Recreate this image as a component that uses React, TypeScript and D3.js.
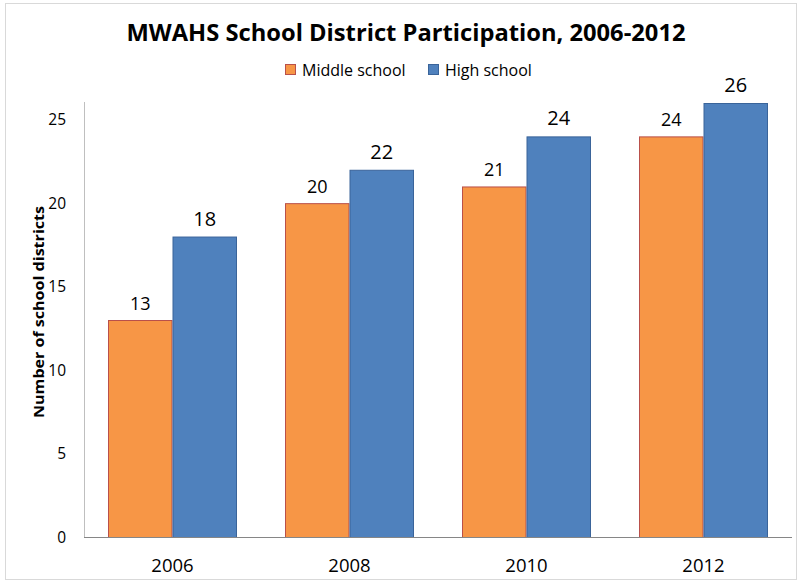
import React from "react";
import * as d3 from "d3";

const categories = ["2006", "2008", "2010", "2012"];
const seriesNames = ["Middle school", "High school"];
const middleSchool = [13, 20, 21, 24];
const highSchool = [18, 22, 24, 26];
const yTicks = [0, 5, 10, 15, 20, 25];
const title = "MWAHS School District Participation, 2006-2012";
const yTitle = "Number of school districts";

const fills = ["#F79646", "#4F81BD"];
const strokes = ["#B9504A", "#3A649A"];
const FONT = "'Open Sans', sans-serif";

export default function App() {
  const W = 800, H = 581;
  const left = 84, right = 792, top = 103, bottom = 537;
  const x = d3.scaleBand<string>().domain(categories).range([left, right]).paddingInner(48 / 177).paddingOuter(24 / 177);
  const xs = d3.scaleBand<string>().domain(seriesNames).range([0, x.bandwidth()]);
  const y = d3.scaleLinear().domain([0, 26]).range([bottom, top]);
  const series = [middleSchool, highSchool];
  const legendX = [285, 428];

  return (
    <svg width={W} height={H} style={{ position: "absolute", left: 0, top: 0, background: "#fff" }} fontFamily={FONT}>
      <rect x={5.5} y={3.5} width={791} height={576} fill="#fff" stroke="#D9D9D9" />
      <text x={406} y={41} textAnchor="middle" fontSize={23} fontWeight="bold" fill="#000" textLength={559} lengthAdjust="spacingAndGlyphs">{title}</text>
      {seriesNames.map((s, i) => {
        const lx = legendX[i];
        return (
          <g key={s}>
            <rect x={lx + 0.5} y={64.5} width={10} height={10} fill={fills[i]} stroke={strokes[i]} />
            <text x={lx + 17} y={75.5} fontSize={16} fill="#000">{s}</text>
          </g>
        );
      })}
      {yTicks.map((t) => (
        <text key={t} x={66} y={y(t) + 5.5} textAnchor="end" fontSize={15.5} fill="#000">{t}</text>
      ))}
      <text transform={`translate(43.5,${312}) rotate(-90)`} textAnchor="middle" fontSize={15} fontWeight="bold" fill="#000" textLength={212} lengthAdjust="spacingAndGlyphs">{yTitle}</text>
      <line x1={84.5} x2={84.5} y1={top - 1} y2={bottom} stroke="#BFBFBF" />
      {categories.map((c, ci) => (
        <g key={c}>
          {series.map((vals, si) => {
            const bx = (x(c) as number) + (xs(seriesNames[si]) as number);
            const v = vals[ci];
            return (
              <g key={si}>
                <rect x={bx + 0.5} y={y(v) + 0.5} width={xs.bandwidth() - 1} height={bottom - y(v)} fill={fills[si]} stroke={strokes[si]} />
                <text x={bx + xs.bandwidth() / 2} y={y(v) - (si === 0 ? 10 : 11)} textAnchor="middle" fontSize={si === 0 ? 18 : 20} fill="#000">{v}</text>
              </g>
            );
          })}
          <text x={(x(c) as number) + x.bandwidth() / 2} y={572} textAnchor="middle" fontSize={18.5} fill="#000">{c}</text>
        </g>
      ))}
      <line x1={left} x2={right} y1={bottom + 0.5} y2={bottom + 0.5} stroke="#868686" />
    </svg>
  );
}
